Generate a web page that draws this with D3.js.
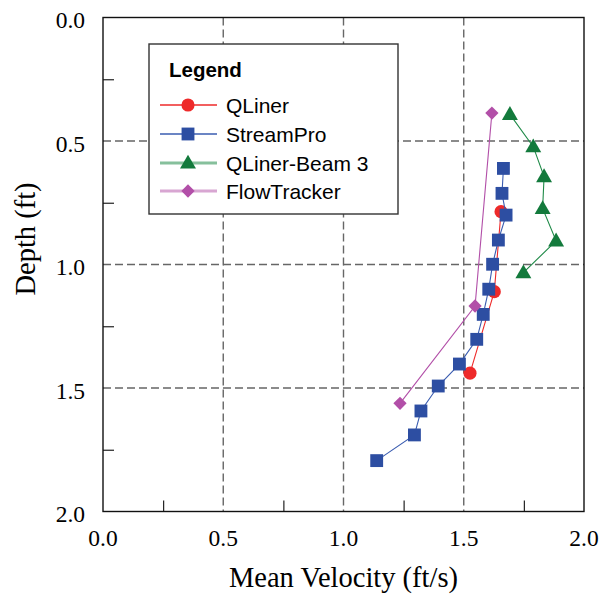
<!DOCTYPE html>
<html><head><meta charset="utf-8">
<script src="https://cdn.jsdelivr.net/npm/d3@7"></script>
<style>html,body{margin:0;padding:0;background:#fff;}</style>
</head><body><svg id="c" width="601" height="595"></svg>
<script>
const seriesNames = ["QLiner", "StreamPro", "QLiner-Beam 3", "FlowTracker"];
const qlinerVel = [1.655, 1.627, 1.526];
const qlinerDepth = [0.786, 1.110, 1.440];
const streamProVel = [1.665, 1.659, 1.676, 1.644, 1.620, 1.604, 1.581, 1.554, 1.482, 1.394, 1.322, 1.295, 1.138];
const streamProDepth = [0.611, 0.712, 0.800, 0.901, 0.999, 1.100, 1.202, 1.303, 1.403, 1.492, 1.593, 1.690, 1.794];
const beam3Vel = [1.692, 1.789, 1.834, 1.828, 1.884, 1.748];
const beam3Depth = [0.392, 0.523, 0.644, 0.773, 0.904, 1.033];
const flowVel = [1.617, 1.547, 1.235];
const flowDepth = [0.387, 1.168, 1.562];
const xTicks = [0.0, 0.5, 1.0, 1.5, 2.0];
const yTicks = [0.0, 0.5, 1.0, 1.5, 2.0];
const minorTicks = [0.25, 0.75, 1.25, 1.75];

const svg = d3.select("#c");
const L = 103, R = 584, T = 17.5, B = 511.5;
const x = d3.scaleLinear().domain([0, 2]).range([L, R]);
const y = d3.scaleLinear().domain([0, 2]).range([T, B]);

const series = [
  {name: seriesNames[0], v: qlinerVel, d: qlinerDepth, color: "#ee2a2a", line: "#ee2a2a", legLine: "#ee2a2a", legW: 1.3, sym: d3.symbolCircle, size: 135, rot: 0, dy: 0},
  {name: seriesNames[1], v: streamProVel, d: streamProDepth, color: "#2d4ea2", line: "#3a5cb0", legLine: "#3a5cb0", legW: 1.3, sym: d3.symbolSquare, size: 165, rot: 0, dy: 0},
  {name: seriesNames[2], v: beam3Vel, d: beam3Depth, color: "#137a3c", line: "#1f8a48", legLine: "#86c09c", legW: 2.8, sym: d3.symbolTriangle, size: 110, rot: 0, dy: 1},
  {name: seriesNames[3], v: flowVel, d: flowDepth, color: "#b24fa8", line: "#b24fa8", legLine: "#d8a6d2", legW: 2.8, sym: d3.symbolSquare, size: 88, rot: 45, dy: 0}
];

// grid
const grid = svg.append("g").attr("stroke", "#666").attr("stroke-width", 1.4).attr("stroke-dasharray", "8,4");
[0.5, 1.0, 1.5].forEach(t => {
  grid.append("line").attr("x1", x(t)).attr("x2", x(t)).attr("y1", T).attr("y2", B);
  grid.append("line").attr("x1", L).attr("x2", R).attr("y1", y(t)).attr("y2", y(t));
});

// axes (inward ticks)
const xAxis = d3.axisBottom(x).tickValues(minorTicks).tickSize(-11).tickFormat("");
const yAxis = d3.axisLeft(y).tickValues(minorTicks).tickSize(-11).tickFormat("");
const gx = svg.append("g").attr("transform", `translate(0,${B})`).call(xAxis);
const gy = svg.append("g").attr("transform", `translate(${L},0)`).call(yAxis);
[gx, gy].forEach(g => { g.select(".domain").remove(); g.selectAll("line").attr("stroke", "#222").attr("stroke-width", 1.2); });

// tick labels
svg.append("g").selectAll("text").data(xTicks).join("text")
  .attr("x", d => x(d)).attr("y", B + 34).attr("text-anchor", "middle")
  .attr("font-family", "Liberation Serif, Times New Roman, serif").attr("font-size", 23.5)
  .text(d => d3.format(".1f")(d));
svg.append("g").selectAll("text").data(yTicks).join("text")
  .attr("x", L - 18).attr("y", d => y(d) + 10.5).attr("text-anchor", "end")
  .attr("font-family", "Liberation Serif, Times New Roman, serif").attr("font-size", 23.5)
  .text(d => d3.format(".1f")(d));

// titles
svg.append("text").attr("x", (L + R) / 2).attr("y", 587).attr("text-anchor", "middle")
  .attr("font-family", "Liberation Serif, Times New Roman, serif").attr("font-size", 28.5)
  .text("Mean Velocity (ft/s)");
svg.append("text").attr("transform", "translate(35,239) rotate(-90)").attr("text-anchor", "middle")
  .attr("font-family", "Liberation Serif, Times New Roman, serif").attr("font-size", 28.5)
  .text("Depth (ft)");

// legend
const lg = svg.append("g");
lg.append("rect").attr("x", 149).attr("y", 44).attr("width", 249).attr("height", 170)
  .attr("fill", "#fff").attr("stroke", "#333").attr("stroke-width", 1.4);
lg.append("text").attr("x", 169).attr("y", 77).attr("font-family", "Liberation Sans, Arial, sans-serif")
  .attr("font-weight", "bold").attr("font-size", 20.5).text("Legend");
const rowY = [105, 134, 163, 191];
series.forEach((s, i) => {
  const ry = rowY[i];
  lg.append("line").attr("x1", 160).attr("x2", 217).attr("y1", ry).attr("y2", ry)
    .attr("stroke", s.legLine).attr("stroke-width", s.legW);
  lg.append("path").attr("d", d3.symbol().type(s.sym).size(s.size)())
    .attr("transform", `translate(188,${ry + s.dy}) rotate(${s.rot})`).attr("fill", s.color);
  lg.append("text").attr("x", 226).attr("y", ry + 7.5).attr("font-family", "Liberation Sans, Arial, sans-serif")
    .attr("font-size", 21).text(s.name);
});

// data
const line = d3.line().x(p => x(p[0])).y(p => y(p[1]));
series.forEach(s => {
  const pts = s.v.map((v, i) => [v, s.d[i]]);
  const g = svg.append("g");
  g.append("path").attr("d", line(pts)).attr("fill", "none").attr("stroke", s.line).attr("stroke-width", 1.1);
  g.selectAll("path.m").data(pts).join("path").attr("class", "m")
    .attr("d", d3.symbol().type(s.sym).size(s.size)())
    .attr("transform", p => `translate(${x(p[0])},${y(p[1]) + s.dy}) rotate(${s.rot})`)
    .attr("fill", s.color);
});

// frame
svg.append("rect").attr("x", L).attr("y", T).attr("width", R - L).attr("height", B - T)
  .attr("fill", "none").attr("stroke", "#111").attr("stroke-width", 1.4);
</script></body></html>
